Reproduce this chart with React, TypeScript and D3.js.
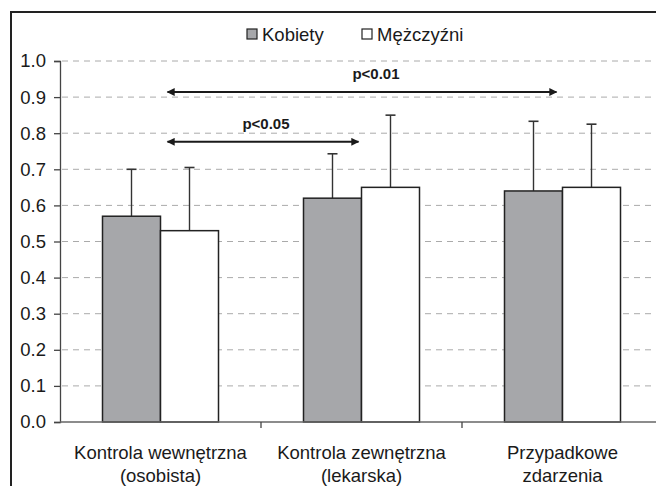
import { useEffect, useRef } from "react";
import * as d3 from "d3";

const categories = ["Kontrola wewnętrzna|(osobista)", "Kontrola zewnętrzna|(lekarska)", "Przypadkowe|zdarzenia"];
const seriesNames = ["Kobiety", "Mężczyźni"];
const kobietyValues = [0.57, 0.62, 0.64];
const mezczyzniValues = [0.53, 0.65, 0.65];
const kobietyErrTop = [0.70, 0.743, 0.833];
const mezczyzniErrTop = [0.705, 0.85, 0.825];
const yTicks = [0, 0.1, 0.2, 0.3, 0.4, 0.5, 0.6, 0.7, 0.8, 0.9, 1.0];
// significance brackets: from category index -> to category index, level, label
const sigFrom = [0, 0];
const sigTo = [2, 1];
const sigLevel = [0.914, 0.776];
const sigLabels = ["p<0.01", "p<0.05"];

export default function App() {
    const ref = useRef<SVGSVGElement>(null);

    useEffect(() => {
        const svg = d3.select(ref.current);
        svg.selectAll("*").remove();

        const W = 656, H = 486;
        const left = 60, right = 663, top = 61, bottom = 422;
        const font = "'Liberation Sans', Arial, sans-serif";
        const fs = 18.5;

        // frame round the whole chart
        svg.append("rect")
            .attr("x", 11).attr("y", 12)
            .attr("width", W + 20).attr("height", H + 20)
            .attr("fill", "white")
            .attr("stroke", "#222").attr("stroke-width", 2);

        const x = d3.scaleBand().domain(categories).range([left, right]);
        const inner = d3.scaleBand().domain(seriesNames).range([0, 116]);
        const groupOff = (x.bandwidth() - 116) / 2;
        const y = d3.scaleLinear().domain([0, 1]).range([bottom, top]);

        // dashed grid
        svg.append("g").selectAll("line")
            .data(yTicks.slice(1))
            .enter().append("line")
            .attr("x1", left + 2).attr("x2", W)
            .attr("y1", d => y(d)).attr("y2", d => y(d))
            .attr("stroke", "#aaa").attr("stroke-width", 1)
            .attr("stroke-dasharray", "6,5");

        // y axis
        const yAxis = d3.axisLeft(y).tickValues(yTicks).tickFormat(d3.format(".1f")).tickSize(6).tickPadding(8);
        const yg = svg.append("g").attr("transform", `translate(${left},0)`).call(yAxis);
        yg.select(".domain").attr("stroke", "#444").attr("stroke-width", 1.3);
        yg.selectAll(".tick line").attr("stroke", "#444").attr("stroke-width", 1.3);
        yg.selectAll("text").attr("font-family", font).attr("font-size", fs).attr("fill", "#1a1a1a");

        // bars
        const bars = [kobietyValues, mezczyzniValues];
        const errs = [kobietyErrTop, mezczyzniErrTop];
        const fills = ["#a6a7aa", "#ffffff"];
        seriesNames.forEach((s, si) => {
            const g = svg.append("g");
            categories.forEach((c, ci) => {
                const bx = (x(c) as number) + groupOff + (inner(s) as number);
                const bw = inner.bandwidth();
                const cx = bx + bw / 2;
                g.append("line")
                    .attr("x1", cx).attr("x2", cx)
                    .attr("y1", y(bars[si][ci])).attr("y2", y(errs[si][ci]))
                    .attr("stroke", "#333").attr("stroke-width", 1.4);
                g.append("line")
                    .attr("x1", cx - 5).attr("x2", cx + 5)
                    .attr("y1", y(errs[si][ci])).attr("y2", y(errs[si][ci]))
                    .attr("stroke", "#333").attr("stroke-width", 1.6);
                g.append("rect")
                    .attr("x", bx).attr("y", y(bars[si][ci]))
                    .attr("width", bw).attr("height", y(0) - y(bars[si][ci]))
                    .attr("fill", fills[si])
                    .attr("stroke", "#222").attr("stroke-width", 1.5);
            });
        });

        // x axis
        svg.append("line")
            .attr("x1", left).attr("x2", W)
            .attr("y1", bottom).attr("y2", bottom)
            .attr("stroke", "#666").attr("stroke-width", 1.5);
        svg.append("g").selectAll("line")
            .data(categories.slice(1))
            .enter().append("line")
            .attr("x1", d => x(d) as number).attr("x2", d => x(d) as number)
            .attr("y1", bottom).attr("y2", bottom + 6)
            .attr("stroke", "#444").attr("stroke-width", 1.3);

        // category labels
        const lab = svg.append("g").selectAll("text")
            .data(categories)
            .enter().append("text")
            .attr("x", d => (x(d) as number) + x.bandwidth() / 2)
            .attr("y", 459)
            .attr("text-anchor", "middle")
            .attr("font-family", font).attr("font-size", fs).attr("fill", "#1a1a1a");
        lab.append("tspan").text(d => d.split("|")[0]);
        lab.append("tspan")
            .attr("x", d => (x(d) as number) + x.bandwidth() / 2)
            .attr("dy", 23)
            .text(d => d.split("|")[1]);

        // significance arrows
        const defs = svg.append("defs");
        defs.append("marker")
            .attr("id", "ah").attr("viewBox", "0 0 10 10")
            .attr("refX", 9).attr("refY", 5)
            .attr("markerWidth", 5.5).attr("markerHeight", 4)
            .attr("orient", "auto-start-reverse")
            .append("path").attr("d", "M0,0L10,5L0,10Z").attr("fill", "#1a1a1a");

        const catCenter = (i: number) => (x(categories[i]) as number) + x.bandwidth() / 2;
        sigLabels.forEach((t, i) => {
            const x1 = catCenter(sigFrom[i]) + 7;
            const x2 = catCenter(sigTo[i]) - (sigTo[i] === 2 ? 6 : 3);
            svg.append("line")
                .attr("x1", x1).attr("x2", x2)
                .attr("y1", y(sigLevel[i])).attr("y2", y(sigLevel[i]))
                .attr("stroke", "#1a1a1a").attr("stroke-width", 2)
                .attr("marker-start", "url(#ah)").attr("marker-end", "url(#ah)");
            svg.append("text")
                .attr("x", sigTo[i] === 2 ? 376 : 266)
                .attr("y", y(sigLevel[i]) - 13)
                .attr("text-anchor", "middle")
                .attr("font-family", font).attr("font-size", 15).attr("font-weight", "bold")
                .attr("fill", "#1a1a1a")
                .text(t);
        });

        // legend
        const legX = [247, 362];
        seriesNames.forEach((s, i) => {
            svg.append("rect")
                .attr("x", legX[i]).attr("y", 29)
                .attr("width", 10).attr("height", 10)
                .attr("fill", fills[i]).attr("stroke", "#222").attr("stroke-width", 1.2);
            svg.append("text")
                .attr("x", legX[i] + 15).attr("y", 41)
                .attr("font-family", font).attr("font-size", fs).attr("fill", "#1a1a1a")
                .text(s);
        });
    }, []);

    return (
        <svg ref={ref} width={656} height={486}
            style={{ position: "absolute", left: 0, top: 0, background: "white" }} />
    );
}
